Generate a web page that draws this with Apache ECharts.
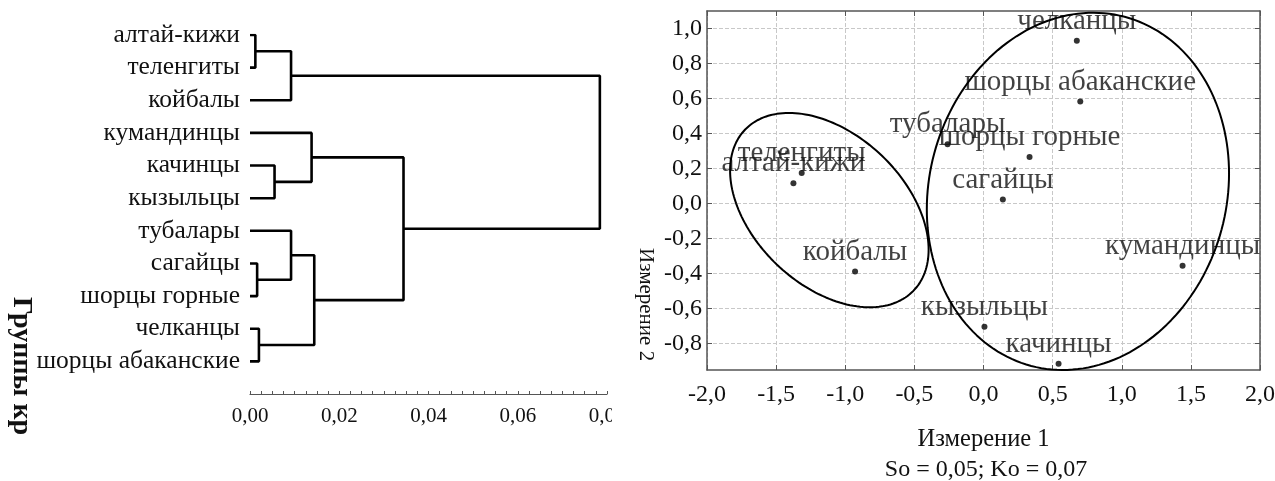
<!DOCTYPE html>
<html lang="ru">
<head>
    <meta charset="UTF-8">
    <script src="https://cdn.jsdelivr.net/npm/echarts@6/dist/echarts.min.js"></script>
    <title>Кластеры и шкалирование</title>
    <style>
        body { margin: 0; background: #fff; }
        #tree { position: absolute; left: 0; top: 0; width: 612px; height: 481px; }
        #mds { position: absolute; left: 612px; top: 0; width: 663px; height: 481px; }
    </style>
</head>
<body>
<div id="tree"></div>
<div id="mds"></div>
<script>
    // дендрограмма: листья сверху вниз и объединения (индексы узлов, высота)
    var leaves = ['алтай-кижи', 'теленгиты', 'койбалы', 'кумандинцы', 'качинцы', 'кызыльцы',
        'тубалары', 'сагайцы', 'шорцы горные', 'челканцы', 'шорцы абаканские'];
    var mergeLeft = [0, 11, 4, 3, 7, 6, 9, 16, 14, 12];
    var mergeRight = [1, 2, 5, 13, 8, 15, 10, 17, 18, 19];
    var mergeHeight = [0.0012, 0.0092, 0.0055, 0.0138, 0.0016, 0.0092, 0.0020, 0.0144, 0.0344, 0.0784];

    // многомерное шкалирование
    var groups = ['челканцы', 'шорцы абаканские', 'шорцы горные', 'сагайцы', 'тубалары', 'теленгиты',
        'алтай-кижи', 'койбалы', 'кумандинцы', 'кызыльцы', 'качинцы'];
    var dim1 = [0.675, 0.70, 0.333, 0.14, -0.26, -1.315, -1.375, -0.929, 1.44, 0.007, 0.543];
    var dim2 = [0.93, 0.583, 0.267, 0.023, 0.339, 0.175, 0.116, -0.387, -0.354, -0.703, -0.914];
    var yTicks = [-0.8, -0.6, -0.4, -0.2, 0, 0.2, 0.4, 0.6, 0.8, 1.0];

    // эллипсы групп: центр, полуоси, косинус сдвига фазы (наклон)
    var ellipseCx = [-1.115, 0.683];
    var ellipseCy = [-0.037, 0.07];
    var ellipseRx = [0.718, 1.093];
    var ellipseRy = [0.555, 1.02];
    var ellipseCos = [-0.407, 0.1];

    var serif = 'Liberation Serif';
    var ink = '#111';

    function comma(v, d) {
        return v.toFixed(d).replace('.', ',');
    }

    /** дендрограмма */
    var nodeY = leaves.map(function (n, i) { return i; });
    var nodeH = leaves.map(function () { return 0; });
    var treeSeries = [];
    for (var m = 0; m < mergeLeft.length; m++) {
        var a = mergeLeft[m], b = mergeRight[m], h = mergeHeight[m];
        treeSeries.push({
            type: 'line',
            data: [[nodeH[a], nodeY[a]], [h, nodeY[a]], [h, nodeY[b]], [nodeH[b], nodeY[b]]],
            showSymbol: false,
            silent: true,
            lineStyle: { color: '#000', width: 2.6 }
        });
        nodeY.push((nodeY[a] + nodeY[b]) / 2);
        nodeH.push(h);
    }

    var tree = echarts.init(document.getElementById('tree'));
    tree.setOption({
        animation: false,
        grid: { left: 250, right: 5, top: 35, bottom: 87, outerBoundsMode: 'none' },
        xAxis: {
            type: 'value', min: 0, max: 0.08, interval: 0.02,
            axisLine: { onZero: false, lineStyle: { color: '#555', width: 1.2 } },
            axisTick: { inside: true, length: 3, lineStyle: { color: '#555' } },
            minorTick: { show: true, splitNumber: 8, length: 3, lineStyle: { color: '#555' } },
            splitLine: { show: false },
            axisLabel: {
                margin: 12, fontFamily: serif, fontSize: 21, color: ink,
                formatter: function (v) { return comma(v, 2); }
            }
        },
        yAxis: {
            type: 'value', inverse: true, min: 0, max: 11, interval: 1,
            axisLine: { show: false }, axisTick: { show: false }, splitLine: { show: false },
            axisLabel: {
                margin: 10, fontFamily: serif, fontSize: 25.5, color: ink,
                formatter: function (v) { return leaves[v] || ''; }
            }
        },
        graphic: [{
            type: 'text', x: 35, y: 297, rotation: -Math.PI / 2,
            style: { text: 'Группы кр', font: 'bold 28px "Liberation Serif"', fill: ink }
        }],
        series: treeSeries
    });

    /** шкалирование */
    var points = dim1.map(function (x, i) { return { name: groups[i], value: [x, dim2[i]] }; });

    var ellipseSeries = ellipseCx.map(function (cx, k) {
        var phi = Math.acos(ellipseCos[k]);
        var pts = [];
        for (var d = 0; d <= 360; d += 2) {
            var t = d * Math.PI / 180;
            pts.push([cx + ellipseRx[k] * Math.cos(t), ellipseCy[k] + ellipseRy[k] * Math.cos(t - phi)]);
        }
        return {
            type: 'line', data: pts, showSymbol: false, silent: true,
            lineStyle: { color: '#000', width: 2 }
        };
    });

    var frameLine = { show: true, onZero: false, lineStyle: { color: '#555', width: 1.5 } };
    var gridLine = { color: '#c8c8c8', type: 'dashed', width: 1 };
    var tickStyle = { color: '#555' };

    var mds = echarts.init(document.getElementById('mds'));
    mds.setOption({
        animation: false,
        title: {
            text: 'So = 0,05; Ko = 0,07', left: 369, top: 453, textAlign: 'center',
            textStyle: { fontFamily: serif, fontSize: 24, fontWeight: 'normal', color: ink }
        },
        grid: { left: 95, right: 15, top: 11, bottom: 111, outerBoundsMode: 'none' },
        xAxis: [{
            type: 'value', min: -2, max: 2, interval: 0.5,
            name: 'Измерение 1', nameLocation: 'middle', nameGap: 57,
            nameTextStyle: { fontFamily: serif, fontSize: 24.5, color: ink },
            axisLine: frameLine,
            axisTick: { inside: true, length: 5, lineStyle: tickStyle },
            splitLine: { show: true, lineStyle: gridLine },
            axisLabel: {
                margin: 13, fontFamily: serif, fontSize: 24, color: ink,
                formatter: function (v) { return comma(v, 1); }
            }
        }, {
            type: 'value', min: -2, max: 2, interval: 0.5, position: 'top',
            axisLine: frameLine,
            axisTick: { inside: true, length: 5, lineStyle: tickStyle },
            axisLabel: { show: false }, splitLine: { show: false }
        }],
        yAxis: [{
            type: 'value', min: -0.95, max: 1.1,
            axisLine: frameLine,
            axisTick: { inside: true, length: 5, customValues: yTicks, lineStyle: tickStyle },
            splitLine: { show: true, customValues: yTicks, lineStyle: gridLine },
            axisLabel: {
                margin: 5, fontFamily: serif, fontSize: 24, color: ink, customValues: yTicks,
                formatter: function (v) { return comma(v, 1); }
            }
        }, {
            type: 'value', min: -0.95, max: 1.1, position: 'right',
            axisLine: frameLine,
            axisTick: { inside: true, length: 5, customValues: yTicks, lineStyle: tickStyle },
            axisLabel: { show: false }, splitLine: { show: false }
        }],
        graphic: [{
            type: 'text', x: 44, y: 248, rotation: -Math.PI / 2,
            style: { text: 'Измерение 2', font: '21px "Liberation Serif"', fill: ink }
        }],
        series: ellipseSeries.concat([{
            type: 'scatter',
            data: points,
            symbolSize: 6,
            itemStyle: { color: '#000' },
            label: {
                show: true, position: 'top', distance: 2,
                formatter: '{b}', fontFamily: serif, fontSize: 29, color: ink
            }
        }])
    });
</script>
</body>
</html>
